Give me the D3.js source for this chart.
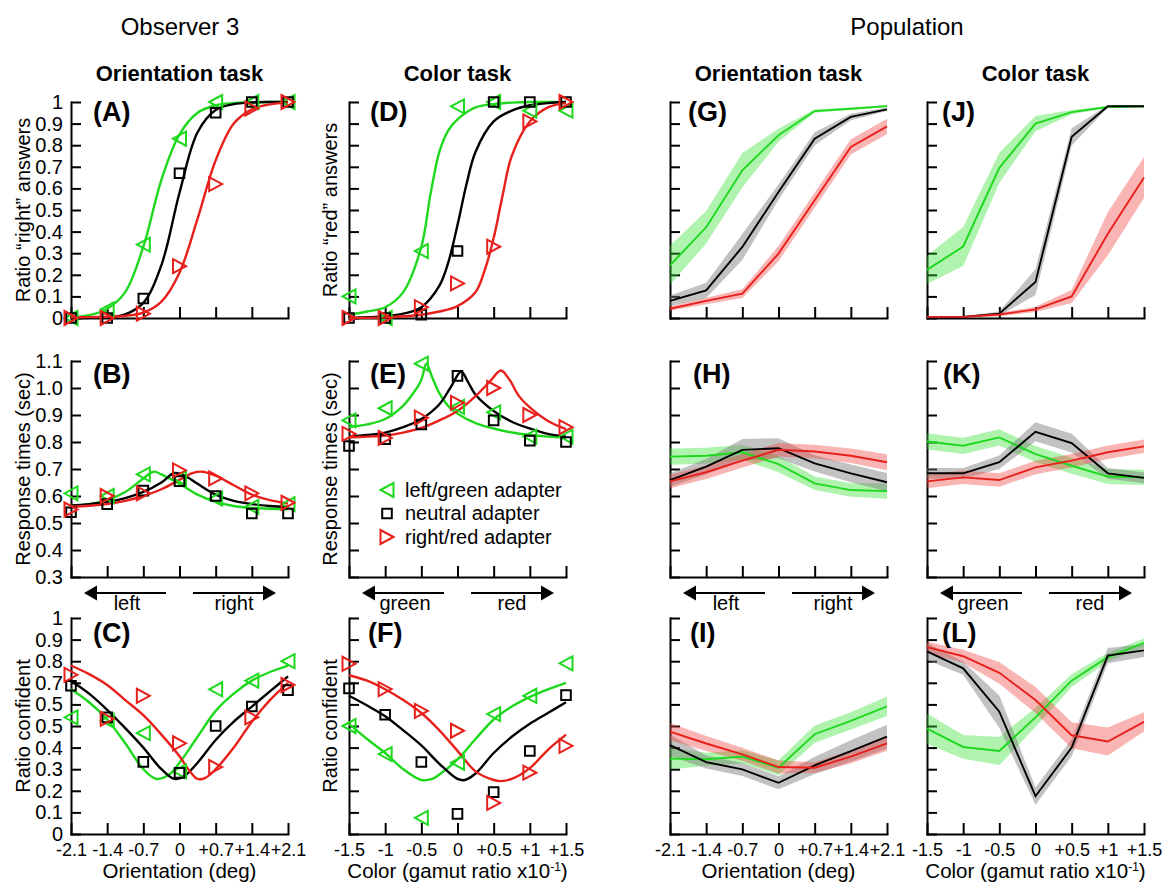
<!DOCTYPE html>
<html>
<head>
<meta charset="utf-8">
<script src="https://cdn.jsdelivr.net/npm/d3@7"></script>
<style>
body { margin: 0; background: #fff; }
svg text { font-family: "Liberation Sans", Arial, Helvetica, sans-serif; fill: #000; }
</style>
</head>
<body>
<svg id="chart" width="1168" height="884"></svg>
<script>
// ---- axes / categories ----
var oriX = [-2.1, -1.4, -0.7, 0, 0.7, 1.4, 2.1];
var colX = [-1.5, -1, -0.5, 0, 0.5, 1, 1.5];
var oriTickLabels = ["-2.1", "-1.4", "-0.7", "0", "+0.7", "+1.4", "+2.1"];
var colTickLabels = ["-1.5", "-1", "-0.5", "0", "+0.5", "+1", "+1.5"];
var ratioTicks = [0, 0.1, 0.2, 0.3, 0.4, 0.5, 0.6, 0.7, 0.8, 0.9, 1];
var ratioLabels = ["0", "0.1", "0.2", "0.3", "0.4", "0.5", "0.6", "0.7", "0.8", "0.9", "1"];
var confLabels = ["0", "0.1", "0.2", "0.3", "0.4", "0.5", "0.5", "0.7", "0.8", "0.9", "1"];
var rtTicks = [0.3, 0.4, 0.5, 0.6, 0.7, 0.8, 0.9, 1.0, 1.1];
var rtLabels = ["0.3", "0.4", "0.5", "0.6", "0.7", "0.8", "0.9", "1.0", "1.1"];
var legendLabels = ["left/green adapter", "neutral adapter", "right/red adapter"];

// ---- Observer 3, data points ----
var aGreen = [0, 0.04, 0.34, 0.83, 1.0, 1.0, 1.0];
var aBlack = [0, 0, 0.09, 0.67, 0.95, 1.0, 1.0];
var aRed = [0, 0, 0.02, 0.24, 0.62, 0.97, 1.0];
var bGreen = [0.61, 0.60, 0.68, 0.665, 0.59, 0.56, 0.57];
var bBlack = [0.54, 0.57, 0.62, 0.655, 0.60, 0.535, 0.535];
var bRed = [0.55, 0.60, 0.61, 0.695, 0.665, 0.61, 0.575];
var cGreen = [0.54, 0.525, 0.467, 0.29, 0.67, 0.71, 0.80];
var cBlack = [0.686, 0.54, 0.334, 0.283, 0.50, 0.59, 0.666];
var cRed = [0.737, 0.533, 0.64, 0.42, 0.31, 0.54, 0.69];
var dGreen = [0.10, 0.0, 0.31, 0.98, 1.0, 0.96, 0.96];
var dBlack = [0, 0, 0.015, 0.31, 1.0, 1.0, 1.0];
var dRed = [0, 0, 0.05, 0.16, 0.33, 0.91, 1.0];
var eGreen = [0.88, 0.925, 1.09, 0.93, 0.91, 0.82, 0.82];
var eBlack = [0.785, 0.81, 0.865, 1.045, 0.88, 0.805, 0.80];
var eRed = [0.83, 0.815, 0.89, 0.945, 1.0, 0.90, 0.855];
var fGreen = [0.50, 0.37, 0.075, 0.33, 0.555, 0.64, 0.79];
var fBlack = [0.674, 0.552, 0.333, 0.093, 0.194, 0.384, 0.643];
var fRed = [0.788, 0.671, 0.57, 0.478, 0.144, 0.284, 0.408];

// ---- Observer 3, fitted curves [x, y] ----
var aFitGreen = [[-2.1,0.004],[-1.75,0.013],[-1.4,0.043],[-1.05,0.12],[-0.7,0.33],[-0.35,0.64],[0,0.85],[0.35,0.95],[0.7,0.985],[1.05,0.995],[1.4,0.998],[1.75,1],[2.1,1]];
var aFitBlack = [[-2.1,0],[-1.75,0.001],[-1.4,0.004],[-1.05,0.017],[-0.7,0.07],[-0.35,0.245],[0,0.58],[0.35,0.86],[0.7,0.963],[1.05,0.99],[1.4,0.998],[1.75,1],[2.1,1]];
var aFitRed = [[-2.1,0.003],[-1.75,0.004],[-1.4,0.006],[-1.05,0.01],[-0.7,0.025],[-0.35,0.076],[0,0.21],[0.35,0.46],[0.7,0.73],[1.05,0.90],[1.4,0.966],[1.75,0.989],[2.1,0.997]];
var bFitGreen = [[-2.1,0.565],[-1.75,0.57],[-1.4,0.585],[-1.05,0.615],[-0.7,0.665],[-0.5,0.69],[-0.35,0.68],[0,0.645],[0.35,0.605],[0.7,0.578],[1.05,0.563],[1.4,0.556],[1.75,0.553],[2.1,0.551]];
var bFitBlack = [[-2.1,0.565],[-1.75,0.57],[-1.4,0.578],[-1.05,0.592],[-0.7,0.615],[-0.35,0.65],[-0.1,0.685],[0.1,0.675],[0.35,0.645],[0.7,0.605],[1.05,0.582],[1.4,0.57],[1.75,0.563],[2.1,0.56]];
var bFitRed = [[-2.1,0.56],[-1.75,0.564],[-1.4,0.57],[-1.05,0.582],[-0.7,0.60],[-0.35,0.625],[0,0.66],[0.25,0.685],[0.45,0.69],[0.7,0.675],[1.05,0.64],[1.4,0.605],[1.75,0.585],[2.1,0.572]];
var cFitGreen = [[-2.1,0.67],[-1.75,0.61],[-1.4,0.53],[-1.05,0.42],[-0.7,0.30],[-0.45,0.255],[-0.2,0.275],[0,0.33],[0.35,0.45],[0.7,0.57],[1.05,0.65],[1.4,0.71],[1.75,0.75],[2.1,0.78]];
var cFitBlack = [[-2.1,0.71],[-1.75,0.65],[-1.4,0.575],[-1.05,0.49],[-0.7,0.40],[-0.35,0.30],[-0.1,0.255],[0.1,0.27],[0.35,0.33],[0.7,0.435],[1.05,0.52],[1.4,0.59],[1.75,0.66],[2.1,0.73]];
var cFitRed = [[-2.1,0.78],[-1.75,0.74],[-1.4,0.69],[-1.05,0.62],[-0.7,0.55],[-0.35,0.46],[0,0.36],[0.2,0.29],[0.35,0.255],[0.5,0.26],[0.7,0.30],[1.05,0.40],[1.4,0.52],[1.75,0.62],[2.1,0.70]];
var dFitGreen = [[-1.5,0.015],[-1.25,0.03],[-1,0.05],[-0.75,0.12],[-0.5,0.33],[-0.375,0.57],[-0.25,0.77],[-0.125,0.87],[0,0.92],[0.25,0.975],[0.5,0.99],[0.75,0.997],[1,1],[1.5,1]];
var dFitBlack = [[-1.5,0],[-1,0.008],[-0.75,0.02],[-0.5,0.05],[-0.25,0.15],[-0.125,0.26],[0,0.43],[0.125,0.62],[0.25,0.77],[0.5,0.91],[0.75,0.96],[1,0.985],[1.25,0.995],[1.5,1]];
var dFitRed = [[-1.5,0],[-1,0.003],[-0.5,0.015],[-0.25,0.03],[0,0.055],[0.25,0.12],[0.375,0.22],[0.5,0.37],[0.625,0.57],[0.75,0.75],[1,0.91],[1.25,0.975],[1.5,0.995]];
var eFitGreen = [[-1.5,0.855],[-1.25,0.865],[-1,0.885],[-0.75,0.935],[-0.6,0.985],[-0.5,1.03],[-0.43,1.09],[-0.35,1.04],[-0.25,0.98],[-0.1,0.925],[0,0.905],[0.25,0.87],[0.5,0.85],[0.75,0.835],[1,0.826],[1.25,0.82],[1.5,0.816]];
var eFitBlack = [[-1.5,0.82],[-1.25,0.826],[-1,0.835],[-0.75,0.855],[-0.5,0.885],[-0.25,0.94],[-0.1,1.0],[0.05,1.06],[0.15,1.02],[0.25,0.975],[0.5,0.915],[0.75,0.875],[1,0.85],[1.25,0.83],[1.5,0.82]];
var eFitRed = [[-1.5,0.817],[-1.25,0.82],[-1,0.824],[-0.75,0.835],[-0.5,0.852],[-0.25,0.88],[0,0.915],[0.25,0.97],[0.45,1.025],[0.6,1.065],[0.72,1.03],[0.85,0.97],[1,0.928],[1.25,0.878],[1.5,0.848]];
var fFitGreen = [[-1.5,0.51],[-1.25,0.44],[-1,0.375],[-0.75,0.30],[-0.5,0.25],[-0.35,0.255],[-0.25,0.275],[0,0.345],[0.25,0.44],[0.5,0.53],[0.75,0.59],[1,0.635],[1.25,0.67],[1.5,0.70]];
var fFitBlack = [[-1.5,0.64],[-1.25,0.595],[-1,0.545],[-0.75,0.48],[-0.5,0.41],[-0.25,0.325],[0,0.255],[0.1,0.25],[0.25,0.28],[0.5,0.375],[0.75,0.45],[1,0.51],[1.25,0.56],[1.5,0.61]];
var fFitRed = [[-1.5,0.735],[-1.25,0.71],[-1,0.67],[-0.75,0.62],[-0.5,0.56],[-0.25,0.48],[0,0.385],[0.25,0.29],[0.5,0.25],[0.6,0.245],[0.75,0.255],[1,0.305],[1.25,0.39],[1.5,0.46]];

// ---- Population, means and band half-widths ----
var gGreen = [0.244, 0.42, 0.684, 0.846, 0.958, 0.969, 0.981];
var gGreenErr = [0.09, 0.075, 0.08, 0.03, 0.008, 0.005, 0.005];
var gBlack = [0.079, 0.128, 0.329, 0.583, 0.83, 0.931, 0.966];
var gBlackErr = [0.025, 0.035, 0.06, 0.035, 0.03, 0.015, 0.008];
var gRed = [0.043, 0.079, 0.113, 0.298, 0.545, 0.792, 0.887];
var gRedErr = [0.01, 0.015, 0.02, 0.035, 0.035, 0.035, 0.035];
var hGreen = [0.746, 0.749, 0.762, 0.718, 0.647, 0.622, 0.618];
var hGreenErr = [0.03, 0.03, 0.028, 0.03, 0.025, 0.025, 0.028];
var hBlack = [0.659, 0.709, 0.771, 0.777, 0.721, 0.684, 0.651];
var hBlackErr = [0.025, 0.028, 0.04, 0.037, 0.03, 0.033, 0.034];
var hRed = [0.654, 0.688, 0.731, 0.771, 0.765, 0.749, 0.725];
var hRedErr = [0.025, 0.025, 0.025, 0.025, 0.025, 0.027, 0.03];
var iGreen = [0.349, 0.346, 0.358, 0.307, 0.462, 0.524, 0.591];
var iGreenErr = [0.05, 0.03, 0.03, 0.035, 0.04, 0.04, 0.045];
var iBlack = [0.411, 0.333, 0.299, 0.237, 0.318, 0.384, 0.451];
var iBlackErr = [0.05, 0.03, 0.03, 0.03, 0.04, 0.05, 0.055];
var iRed = [0.474, 0.419, 0.369, 0.31, 0.307, 0.358, 0.42];
var iRedErr = [0.04, 0.035, 0.03, 0.03, 0.025, 0.03, 0.035];
var jGreen = [0.223, 0.331, 0.695, 0.90, 0.953, 0.977, 0.98];
var jGreenErr = [0.065, 0.09, 0.07, 0.035, 0.01, 0.005, 0.005];
var jBlack = [0.005, 0.005, 0.02, 0.167, 0.839, 0.98, 0.98];
var jBlackErr = [0.003, 0.003, 0.01, 0.06, 0.04, 0.005, 0.005];
var jRed = [0.005, 0.005, 0.016, 0.04, 0.10, 0.39, 0.65];
var jRedErr = [0.004, 0.004, 0.008, 0.012, 0.03, 0.1, 0.095];
var kGreen = [0.802, 0.786, 0.817, 0.755, 0.712, 0.672, 0.669];
var kGreenErr = [0.03, 0.03, 0.03, 0.03, 0.03, 0.028, 0.028];
var kBlack = [0.684, 0.684, 0.725, 0.838, 0.796, 0.684, 0.667];
var kBlackErr = [0.02, 0.02, 0.025, 0.035, 0.035, 0.02, 0.02];
var kRed = [0.654, 0.669, 0.659, 0.706, 0.731, 0.762, 0.784];
var kRedErr = [0.025, 0.025, 0.025, 0.025, 0.025, 0.025, 0.025];
var lGreen = [0.488, 0.403, 0.384, 0.54, 0.71, 0.819, 0.885];
var lGreenErr = [0.07, 0.055, 0.065, 0.045, 0.03, 0.02, 0.02];
var lBlack = [0.845, 0.767, 0.566, 0.175, 0.40, 0.826, 0.85];
var lBlackErr = [0.04, 0.03, 0.075, 0.04, 0.04, 0.035, 0.03];
var lRed = [0.865, 0.823, 0.746, 0.62, 0.457, 0.428, 0.519];
var lRedErr = [0.025, 0.03, 0.05, 0.06, 0.06, 0.065, 0.045];

// ---- layout ----
var colLeft = [71, 349, 670, 927];
var panelW = 217;
var rowTop = [102, 361, 618];
var rowBottom = [318, 577, 834];
var GREEN = "#1ed81e", RED = "#e8201c", BLACK = "#000";
var BAND = {green: "#2ee02e", black: "#777", red: "#ee3a3a"};

var svg = d3.select("#chart");

var shapes = {
  left: "M-6.5,0L6.5,-7L6.5,7Z",
  right: "M6.5,0L-6.5,-7L-6.5,7Z",
  square: "M-4.8,-4.8H4.8V4.8H-4.8Z"
};

function panel(col, row, xs, yDomain, yTicks, yLabels, xLabels) {
  var x = d3.scaleLinear().domain([xs[0], xs[xs.length - 1]])
    .range([colLeft[col], colLeft[col] + panelW]);
  var y = d3.scaleLinear().domain(yDomain).range([rowBottom[row], rowTop[row]]);

  var yAxis = d3.axisLeft(y).tickValues(yTicks)
    .tickSizeInner(-10).tickSizeOuter(0).tickPadding(8)
    .tickFormat(function(d, i) { return yLabels ? yLabels[i] : ""; });
  var xAxis = d3.axisBottom(x).tickValues(xs)
    .tickSizeInner(-11).tickSizeOuter(0).tickPadding(9)
    .tickFormat(function(d, i) { return xLabels ? xLabels[i] : ""; });

  var gx = svg.append("g").attr("transform", "translate(0," + rowBottom[row] + ")").call(xAxis);
  var gy = svg.append("g").attr("transform", "translate(" + colLeft[col] + ",0)").call(yAxis);
  [gx, gy].forEach(function(g) {
    g.select(".domain").attr("stroke", "#000").attr("stroke-width", 2).attr("stroke-linecap", "square");
    g.selectAll(".tick line").attr("stroke", "#000").attr("stroke-width", 2);
    g.selectAll("text").attr("fill", "#000")
      .style("font-family", "'Liberation Sans', Arial, sans-serif");
  });
  gy.selectAll("text").attr("font-size", 20);
  gx.selectAll("text").attr("font-size", 18);
  return {x: x, y: y};
}

function fit(p, pts, color) {
  var line = d3.line()
    .x(function(d) { return p.x(d[0]); })
    .y(function(d) { return p.y(d[1]); })
    .curve(d3.curveCatmullRom.alpha(0.5));
  svg.append("path").datum(pts).attr("d", line)
    .attr("fill", "none").attr("stroke", color).attr("stroke-width", 2.4);
}

function markers(p, xs, ys, shape, color) {
  svg.append("g").selectAll("path")
    .data(xs.map(function(v, i) { return [v, ys[i]]; }))
    .enter().append("path")
    .attr("d", shapes[shape])
    .attr("transform", function(d) { return "translate(" + p.x(d[0]) + "," + p.y(d[1]) + ")"; })
    .attr("fill", "none").attr("stroke", color).attr("stroke-width", 2);
}

function observer(p, fits, pts) {
  fit(p, fits[0], GREEN);
  fit(p, fits[1], BLACK);
  fit(p, fits[2], RED);
  markers(p, p.xs, pts[0], "left", GREEN);
  markers(p, p.xs, pts[1], "square", BLACK);
  markers(p, p.xs, pts[2], "right", RED);
}

function population(p, xs, series) {
  var area = d3.area()
    .x(function(d) { return p.x(d[0]); })
    .y0(function(d) { return p.y(d[1] - d[2]); })
    .y1(function(d) { return p.y(d[1] + d[2]); });
  var line = d3.line()
    .x(function(d) { return p.x(d[0]); })
    .y(function(d) { return p.y(d[1]); });
  series.forEach(function(s) {
    var rows = xs.map(function(v, i) { return [v, s.mean[i], s.err[i]]; });
    svg.append("path").datum(rows).attr("d", area)
      .attr("fill", s.band).attr("fill-opacity", s.band === BAND.black ? 0.45 : 0.38).attr("stroke", "none");
  });
  series.forEach(function(s) {
    var rows = xs.map(function(v, i) { return [v, s.mean[i]]; });
    svg.append("path").datum(rows).attr("d", line)
      .attr("fill", "none").attr("stroke", s.color).attr("stroke-width", 1.9);
  });
}

function yTitle(xPos, row, text) {
  svg.append("text")
    .attr("transform", "translate(" + xPos + "," + (rowTop[row] + rowBottom[row]) / 2 + ") rotate(-90)")
    .attr("text-anchor", "middle").attr("font-size", 20).text(text);
}

function letter(col, row, text, dx) {
  svg.append("text").attr("x", colLeft[col] + dx).attr("y", [121, 383, 642][row])
    .attr("font-size", 27).attr("font-weight", "bold").text(text);
}

function arrows(col, words) {
  var l = colLeft[col], yy = 593;
  svg.append("line").attr("x1", l + 24).attr("x2", l + 95).attr("y1", yy).attr("y2", yy)
    .attr("stroke", "#000").attr("stroke-width", 2);
  svg.append("path").attr("d", "M" + (l + 13) + "," + yy + "l13,-7.5v15z").attr("fill", "#000");
  svg.append("line").attr("x1", l + 122).attr("x2", l + 193).attr("y1", yy).attr("y2", yy)
    .attr("stroke", "#000").attr("stroke-width", 2);
  svg.append("path").attr("d", "M" + (l + 205) + "," + yy + "l-13,-7.5v15z").attr("fill", "#000");
  svg.append("text").attr("x", l + 56).attr("y", 610).attr("text-anchor", "middle").attr("font-size", 20).text(words[0]);
  svg.append("text").attr("x", l + 163).attr("y", 610).attr("text-anchor", "middle").attr("font-size", 20).text(words[1]);
}

// ---- headings ----
svg.append("text").attr("x", 180).attr("y", 35).attr("text-anchor", "middle").attr("font-size", 24).text("Observer 3");
svg.append("text").attr("x", 907).attr("y", 35).attr("text-anchor", "middle").attr("font-size", 24).text("Population");
[["Orientation task", 0], ["Color task", 1], ["Orientation task", 2], ["Color task", 3]].forEach(function(t) {
  svg.append("text").attr("x", colLeft[t[1]] + panelW / 2).attr("y", 81)
    .attr("text-anchor", "middle").attr("font-size", 22).attr("font-weight", "bold").text(t[0]);
});

// ---- Observer 3 panels ----
var pA = panel(0, 0, oriX, [0, 1], ratioTicks, ratioLabels, null); pA.xs = oriX;
observer(pA, [aFitGreen, aFitBlack, aFitRed], [aGreen, aBlack, aRed]);
var pB = panel(0, 1, oriX, [0.3, 1.1], rtTicks, rtLabels, null); pB.xs = oriX;
observer(pB, [bFitGreen, bFitBlack, bFitRed], [bGreen, bBlack, bRed]);
var pC = panel(0, 2, oriX, [0, 1], ratioTicks, confLabels, oriTickLabels); pC.xs = oriX;
observer(pC, [cFitGreen, cFitBlack, cFitRed], [cGreen, cBlack, cRed]);
var pD = panel(1, 0, colX, [0, 1], ratioTicks, null, null); pD.xs = colX;
observer(pD, [dFitGreen, dFitBlack, dFitRed], [dGreen, dBlack, dRed]);
var pE = panel(1, 1, colX, [0.3, 1.1], rtTicks, null, null); pE.xs = colX;
observer(pE, [eFitGreen, eFitBlack, eFitRed], [eGreen, eBlack, eRed]);
var pF = panel(1, 2, colX, [0, 1], ratioTicks, null, colTickLabels); pF.xs = colX;
observer(pF, [fFitGreen, fFitBlack, fFitRed], [fGreen, fBlack, fRed]);

// ---- Population panels ----
function trio(g, ge, b, be, r, re) {
  return [
    {mean: g, err: ge, color: GREEN, band: BAND.green},
    {mean: b, err: be, color: BLACK, band: BAND.black},
    {mean: r, err: re, color: RED, band: BAND.red}
  ];
}
var pG = panel(2, 0, oriX, [0, 1], ratioTicks, null, null);
population(pG, oriX, trio(gGreen, gGreenErr, gBlack, gBlackErr, gRed, gRedErr));
var pH = panel(2, 1, oriX, [0.3, 1.1], rtTicks, null, null);
population(pH, oriX, trio(hGreen, hGreenErr, hBlack, hBlackErr, hRed, hRedErr));
var pI = panel(2, 2, oriX, [0, 1], ratioTicks, null, oriTickLabels);
population(pI, oriX, trio(iGreen, iGreenErr, iBlack, iBlackErr, iRed, iRedErr));
var pJ = panel(3, 0, colX, [0, 1], ratioTicks, null, null);
population(pJ, colX, trio(jGreen, jGreenErr, jBlack, jBlackErr, jRed, jRedErr));
var pK = panel(3, 1, colX, [0.3, 1.1], rtTicks, null, null);
population(pK, colX, trio(kGreen, kGreenErr, kBlack, kBlackErr, kRed, kRedErr));
var pL = panel(3, 2, colX, [0, 1], ratioTicks, null, colTickLabels);
population(pL, colX, trio(lGreen, lGreenErr, lBlack, lBlackErr, lRed, lRedErr));

// ---- y titles ----
yTitle(30, 0, "Ratio \u201cright\u201d answers");
yTitle(30, 1, "Response times (sec)");
yTitle(30, 2, "Ratio confident");
yTitle(337, 0, "Ratio \u201cred\u201d answers");
yTitle(337, 1, "Response times (sec)");
yTitle(337, 2, "Ratio confident");

// ---- x titles ----
[0, 2].forEach(function(c) {
  svg.append("text").attr("x", colLeft[c] + panelW / 2).attr("y", 878)
    .attr("text-anchor", "middle").attr("font-size", 20.5).text("Orientation (deg)");
});
[1, 3].forEach(function(c) {
  var t = svg.append("text").attr("x", colLeft[c] + panelW / 2).attr("y", 878)
    .attr("text-anchor", "middle").attr("font-size", 20.5);
  t.append("tspan").text("Color (gamut ratio x10");
  t.append("tspan").attr("dy", -7).attr("font-size", 12).text("-1");
  t.append("tspan").attr("dy", 7).text(")");
});

// ---- direction arrows ----
arrows(0, ["left", "right"]);
arrows(1, ["green", "red"]);
arrows(2, ["left", "right"]);
arrows(3, ["green", "red"]);

// ---- panel letters ----
letter(0, 0, "(A)", 22); letter(0, 1, "(B)", 22); letter(0, 2, "(C)", 22);
letter(1, 0, "(D)", 21); letter(1, 1, "(E)", 21); letter(1, 2, "(F)", 19);
letter(2, 0, "(G)", 18); letter(2, 1, "(H)", 23); letter(2, 2, "(I)", 20);
letter(3, 0, "(J)", 15); letter(3, 1, "(K)", 16); letter(3, 2, "(L)", 15);

// ---- legend in panel E ----
var legShapes = ["left", "square", "right"];
var legColors = [GREEN, BLACK, RED];
legendLabels.forEach(function(t, i) {
  var yy = 490 + i * 23.5;
  svg.append("path").attr("d", shapes[legShapes[i]])
    .attr("transform", "translate(387," + yy + ")")
    .attr("fill", "none").attr("stroke", legColors[i]).attr("stroke-width", 2);
  svg.append("text").attr("x", 405).attr("y", yy + 6.5).attr("font-size", 20).text(t);
});
</script>
</body>
</html>
